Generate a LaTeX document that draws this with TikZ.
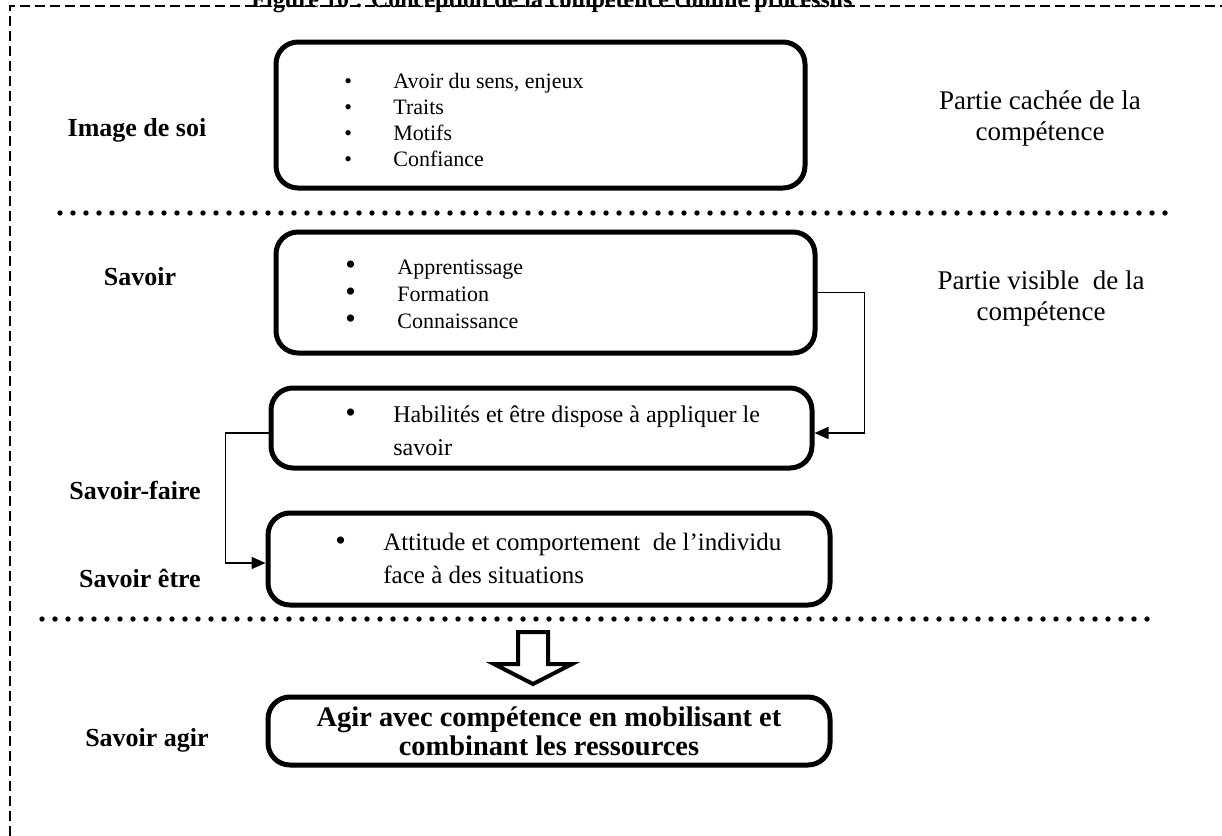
\documentclass[tikz,border=0pt]{standalone}
\usepackage{fontspec}
\setmainfont{Liberation Serif}
\usetikzlibrary{calc,arrows.meta}

\begin{document}
\begin{tikzpicture}[x=0.5pt,y=-0.5pt,
  stage/.style={draw, line width=2.5pt, rounded corners=11pt, inner sep=0pt},
  level/.style={font=\fontsize{13}{15}\selectfont\bfseries},
  note/.style={font=\fontsize{13.5}{15.5}\selectfont, align=center},
  items/.style={anchor=base west, inner sep=0pt},
  sep/.style={line width=2.7pt, line cap=round, dash pattern=on 0pt off 6.5pt},
  link/.style={line width=0.8pt, -{Triangle[length=7pt,width=6pt]}},
  frame/.style={line width=1pt, dash pattern=on 5pt off 2.5pt}]

\useasboundingbox (0,0) rectangle (1222,836);

% title, partly above the page edge
\node[anchor=base, inner sep=0pt, font=\fontsize{12}{14}\selectfont\bfseries] (title) at (552,7)
  {Figure 10 : Conception de la compétence comme processus};

% dashed frame (top and left sides)
\draw[frame] (10,836) -- (10,6) -- (1222,6);

% separators between the hidden and visible parts
\draw[sep] (60,213) -- (1170,213);
\draw[sep] (42,619) -- (1155,619);

% boxes
\node[stage, minimum width=264.5pt, minimum height=73pt] (b1) at (540.5,115) {};
\node[stage, minimum width=269.5pt, minimum height=60.5pt] (b2) at (545.5,292.5) {};
\node[stage, minimum width=270.5pt, minimum height=40pt] (b3) at (541.5,428) {};
\node[stage, minimum width=281pt, minimum height=46pt] (b4) at (549,559) {};
\node[stage, minimum width=281pt, minimum height=34pt, font=\fontsize{14.2}{14.5}\selectfont\bfseries, align=center] (b5) at (549,731)
  {Agir avec compétence en mobilisant et\\combinant les ressources};

% box contents
\node[items, font=\fontsize{11}{13}\selectfont] (t1) at (344,88)
  {\begin{tabular}[t]{@{}p{24.5pt}@{}l@{}}
   \textbullet & Avoir du sens, enjeux\\
   \textbullet & Traits\\
   \textbullet & Motifs\\
   \textbullet & Confiance
   \end{tabular}};
\node[items, font=\fontsize{11}{13.5}\selectfont] (t2) at (345,274)
  {\begin{tabular}[t]{@{}p{26pt}@{}l@{}}
   {\fontsize{15}{13.5}\selectfont\textbullet} & Apprentissage\\
   {\fontsize{15}{13.5}\selectfont\textbullet} & Formation\\
   {\fontsize{15}{13.5}\selectfont\textbullet} & Connaissance
   \end{tabular}};
\node[items, font=\fontsize{12}{16.5}\selectfont] (t3) at (345,422)
  {\begin{tabular}[t]{@{}p{24pt}@{}l@{}}
   {\fontsize{15}{16.5}\selectfont\textbullet} & Habilités et être dispose à appliquer le\\
   & savoir
   \end{tabular}};
\node[items, font=\fontsize{12.5}{16.5}\selectfont] (t4) at (335,550)
  {\begin{tabular}[t]{@{}p{24pt}@{}l@{}}
   {\fontsize{15}{16.5}\selectfont\textbullet} & Attitude et comportement\ \ de l’individu\\
   & face à des situations
   \end{tabular}};

% level labels
\node[level] (l1) at (137,130) {Image de soi};
\node[level] (l2) at (140,277) {Savoir};
\node[level] (l3) at (135,490) {Savoir-faire};
\node[level] (l4) at (140,578) {Savoir être};
\node[level] (l5) at (147,740) {Savoir agir};

% notes on the right
\node[note] (n1) at (1040,118) {Partie cachée de la\\compétence};
\node[note] (n2) at (1041,298) {Partie visible\ \ de la\\compétence};

% connectors
\coordinate (k1) at ($(b3.east)+(50,5)$);
\coordinate (k2) at ($(b3.west)+(-43,135)$);
\draw[link] (b2.east) -| (k1) -- ([yshift=-2.5pt]b3.east);
\draw[link] ([yshift=-2.5pt]b3.west) -| (k2) -- ([yshift=-2pt]b4.west);

% hollow block arrow towards the action box
\draw[line width=2pt, fill=white, line join=miter]
  (518,632) -- (548,632) -- (548,664) -- (572,664) -- (533,684)
  -- (494,664) -- (518,664) -- cycle;
\end{tikzpicture}
\end{document}
